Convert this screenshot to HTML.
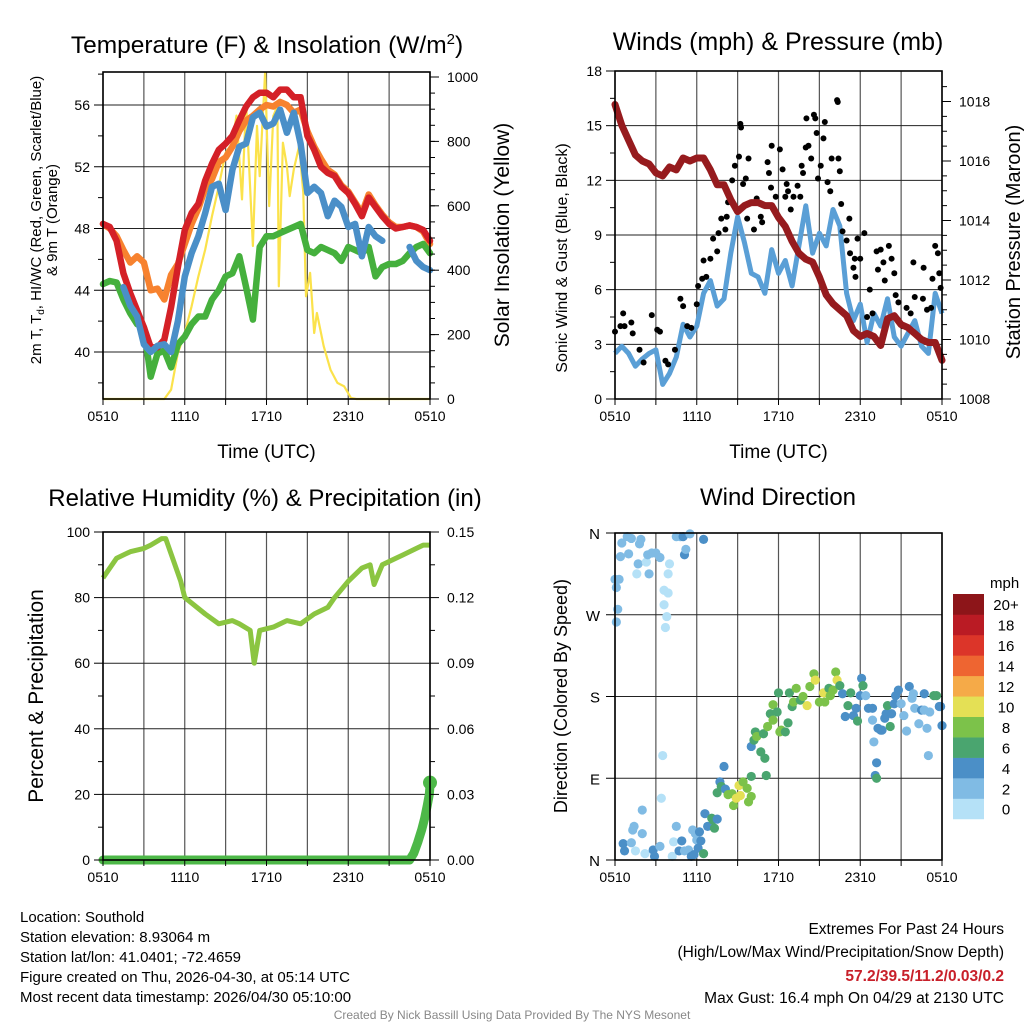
<!DOCTYPE html>
<html><head><meta charset="utf-8"><style>
html,body{margin:0;padding:0;background:#fff;}
svg{display:block;font-family:"Liberation Sans",sans-serif;}
</style></head><body>
<svg id="chart" width="1024" height="1024" viewBox="0 0 1024 1024" xmlns="http://www.w3.org/2000/svg"></svg>
<script>
// ---- data (half-hourly, hours since 0510 UTC) ----
const tempRed = [48.3,48.1,47.2,45.1,43.8,42.7,41.6,40.3,40.3,40.8,42.9,45.5,47.9,49.0,49.6,51.1,52.2,53.1,53.5,54.0,55.0,55.9,56.5,56.8,56.8,56.5,57.0,57.0,56.5,56.5,54.0,53.1,52.0,51.6,51.4,50.7,50.3,49.6,48.8,50.0,49.4,48.8,48.3,48.0,48.1,48.2,48.1,47.9,47.2];
const tempOrange = [48.3,48.0,47.5,46.6,45.8,46.2,45.8,44.0,44.1,43.4,45.0,45.7,47.0,48.3,49.3,50.6,51.2,52.3,52.6,53.3,54.3,55.0,55.3,55.7,56.0,55.9,56.2,56.0,55.5,55.7,54.3,53.3,52.5,51.8,51.5,50.8,50.4,49.7,49.0,50.2,49.5,48.9,48.4,48.1,48.1,48.2,48.1,47.8,47.0];
const tempBlue = [null,46.0,null,44.2,43.0,42.3,40.5,40.0,40.4,40.5,40.0,42.0,44.9,46.4,47.5,49.0,50.7,50.9,49.2,51.8,53.3,53.5,55.2,55.5,54.6,54.8,55.7,54.2,55.5,53.5,50.3,50.7,50.3,48.8,49.8,49.4,48.1,48.3,46.2,48.1,47.5,47.2,null,null,null,46.8,45.9,45.5,45.3];
const tempGreen = [44.4,44.6,44.5,43.4,42.5,41.8,41.6,38.4,39.9,40.1,39.0,40.5,41.0,41.8,42.3,42.3,43.4,44.0,44.9,45.1,46.2,44.2,42.1,46.8,47.5,47.5,47.7,47.9,48.1,48.3,46.6,46.4,46.8,46.6,46.4,45.9,46.8,46.6,46.4,46.8,44.9,45.5,45.7,45.7,45.9,46.4,46.8,47.0,46.4];
const solarHours = [0,4.5,5.0,5.5,6.0,6.5,7.0,7.5,8.0,8.5,9.0,9.5,9.8,10.2,10.5,11.0,11.3,11.5,11.9,12.2,12.5,12.8,12.9,13.2,13.5,13.7,14.0,14.4,14.7,14.9,15.2,15.5,15.7,16.2,16.7,17.2,17.7,18.2,18.6,24];
const solarValues = [0,0,29,143,205,288,381,464,568,661,765,796,880,620,920,475,848,692,1013,599,879,910,350,796,723,630,713,786,640,319,392,205,267,164,91,50,39,3,0,0];
const windSpeed = [2.5,2.9,2.5,1.8,2.2,2.5,2.7,0.8,1.4,2.3,4.1,3.4,4.0,5.8,6.5,5.1,5.5,8.0,10.0,8.6,6.9,6.7,5.8,8.2,6.9,7.6,6.2,8.4,10.6,8.0,9.1,8.4,10.4,9.5,5.8,4.3,5.2,3.1,4.7,4.0,5.5,3.4,2.9,3.6,4.3,2.9,2.5,5.8,4.7];
const pressure = [1017.9,1017.2,1016.7,1016.2,1016.0,1015.9,1015.6,1015.5,1015.8,1015.7,1016.1,1016.0,1016.1,1016.1,1015.7,1015.2,1015.2,1014.7,1014.3,1014.5,1014.6,1014.6,1014.5,1014.5,1014.1,1013.8,1013.3,1012.9,1012.7,1012.6,1012.1,1011.5,1011.2,1011.0,1010.8,1010.3,1010.1,1010.2,1010.1,1009.8,1010.7,1010.8,1010.5,1010.4,1010.2,1010.0,1009.9,1009.9,1009.3];
const gustHours = [0,0.4,0.6,0.7,1.2,1.3,1.8,2.1,2.7,3.1,3.3,3.7,3.9,4.4,4.8,5.0,5.3,5.6,6.0,6.1,6.4,6.7,6.5,7.0,7.2,7.6,7.5,7.8,8.1,8.2,8.3,8.6,8.8,9.1,9.2,9.25,9.4,9.6,9.8,9.7,10.2,10.4,10.7,10.8,11.3,11.2,11.5,11.45,11.8,12.1,12.3,12.5,12.6,12.7,12.9,13.1,13.4,13.6,13.7,13.8,14.0,14.05,14.2,14.4,14.6,14.7,14.8,14.9,15.1,15.3,15.4,15.6,15.8,15.9,16.3,16.35,16.4,16.5,16.6,16.7,17.0,17.2,17.25,17.6,17.8,18.0,18.3,17.5,17.65,19.2,19.5,19.3,19.7,19.8,20.1,20.3,20.5,18.7,18.9,18.5,20.6,20.8,21.1,21.4,21.7,21.9,22.0,22.6,22.65,22.9,23.3,23.5,23.7,23.8,23.9,23.2];
const gustValues = [3.7,4.0,4.7,4.0,4.2,3.6,2.7,2.0,4.6,3.8,3.7,2.1,1.9,2.7,5.5,5.1,4.0,3.9,5.2,6.2,6.6,6.7,7.6,7.7,8.8,9.1,8.1,9.9,9.3,10.0,10.8,12.0,12.8,13.3,15.1,14.9,11.8,12.1,13.2,9.9,9.3,11.0,10.0,9.7,12.4,13.0,13.9,11.6,11.1,13.7,12.6,11.1,11.8,11.4,10.4,11.1,11.7,11.1,12.8,12.4,13.8,15.4,13.9,13.2,15.6,15.4,14.6,12.1,12.8,14.3,15.2,11.9,11.4,13.2,16.4,16.3,13.2,12.5,10.7,9.2,8.7,9.9,8.0,7.7,8.8,7.7,9.1,7.2,6.7,8.1,8.2,7.1,7.5,6.5,8.4,7.7,6.9,6.0,4.7,4.5,5.7,5.3,4.0,5.0,4.7,7.5,5.6,5.5,7.2,4.9,6.6,8.4,8.0,6.9,6.1,5.0];
const rhHours = [0,1,2,3,3.5,4.3,4.6,5.7,6,7.5,8.5,9.5,10,10.8,11.1,11.5,12.5,13.5,14.5,15.5,16.5,17,18,19,19.6,19.9,20.5,21.5,22,23,23.5,24];
const rhValues = [86,92,94,95,96,98,98,85,80,75,72,73,72,70,60,70,71,73,72,75,77,80,85,89,90,84,90,92,93,95,96,96];
const precipHours = [0,22.5,22.8,23.1,23.4,23.6,23.8,23.95,24];
const precipValues = [0,0,0.003,0.008,0.014,0.019,0.025,0.030,0.034];
const dirHours = [0,0.1,0.3,0.2,0.1,0.5,0.4,0.9,1.2,1.0,1.6,1.7,1.8,1.9,2.5,2.3,2.4,2.7,3.0,3.3,3.6,3.6,3.9,3.8,3.7,3.9,4.0,4.5,4.8,5.0,5.1,5.2,5.5,6.5,
0.6,0.7,1.2,1.3,1.4,2.0,2.0,1.5,2.2,2.8,2.9,3.3,3.4,3.5,4.2,4.3,4.5,4.7,4.9,5.1,5.4,5.6,5.7,5.8,6.0,5.9,6.2,6.3,6.1,6.5,6.6,6.8,7.1,7.2,7.3,7.5,
8.0,7.7,7.8,7.5,8.1,8.3,8.6,8.7,8.9,9.1,9.2,9.4,9.7,9.8,10.0,10.0,10.0,10.2,10.3,10.4,10.7,10.9,11.0,11.1,11.2,11.4,11.6,11.6,11.9,12.0,12.1,12.2,12.5,12.7,12.8,13.0,13.1,13.3,13.6,13.8,14.1,14.3,14.6,14.7,15.0,15.3,15.4,15.7,15.8,16.0,16.2,16.3,16.5,16.7,16.9,17.1,17.3,17.5,17.7,17.8,18.0,18.1,18.2,18.4,18.6,18.9,18.9,19.0,19.1,19.2,19.2,19.3,19.5,19.6,19.8,19.9,20.0,20.2,20.3,20.5,20.6,20.8,21.0,21.2,21.4,21.6,21.8,21.9,22.0,22.3,22.5,22.7,22.7,22.9,23.0,23.1,23.4,23.6,23.8,23.9,24.0];
const dirDegrees = [309,300,309,276,262,349,334,356,354,337,315,326,348,353,315,328,336,338,338,333,281,297,294,268,256,315,326,356,356,356,336,342,359,353,
18,10,19,33,37,29,55,10,7,11,4,15,68,115,4,20,37,10,21,10,11,4,33,6,22,29,31,21,13,7,51,37,46,44,35,45,
103,86,81,74,78,72,73,60,68,82,71,86,79,64,70,92,125,132,141,136,119,139,112,93,147,161,171,154,163,184,141,143,141,151,184,169,174,189,176,180,170,191,205,198,174,184,174,189,181,187,207,198,192,183,158,170,184,159,167,153,181,200,192,181,167,167,154,130,93,90,107,145,143,143,156,161,170,147,161,172,181,187,172,159,142,191,178,183,167,150,165,183,165,145,115,163,181,181,169,169,148];
const dirSpeeds = [3,3,3,3,3,3,3,3,3,3,1,3,3,3,3,1,3,3,3,3,1,1,1,1,1,1,1,3,3,5,5,3,3,5,
5,5,3,3,3,3,3,1,1,5,5,3,1,1,1,1,3,5,5,3,3,5,3,5,3,3,5,5,5,7,5,5,7,7,7,5,
5,5,7,7,5,9,9,9,11,11,11,9,9,9,9,7,5,7,7,9,7,7,7,7,9,7,9,9,7,7,9,9,7,7,7,7,9,9,7,9,11,9,9,11,9,11,9,7,9,9,9,11,7,5,5,7,7,5,5,7,5,5,7,3,5,5,3,3,5,7,5,5,5,5,5,5,7,7,5,5,5,5,3,3,3,5,3,3,3,3,5,5,3,3,3,3,7,7,5,5,5];
const speedBinColors = ["#b5e1f7","#80bbe4","#4b8fc7","#4aa56f","#7cc24a","#e4e055","#f5aa48","#ee6531","#dc3529","#ba1b24","#8d1519"];
const speedBinLabels = ["0","2","4","6","8","10","12","14","16","18","20+"];
const xTickHours = [0,6,12,18,24];
const xTickLabels = ["0510","1110","1710","2310","0510"];

// ---- helpers ----
const svg = document.getElementById('chart');
const NS = 'http://www.w3.org/2000/svg';
function el(tag, attrs, parent){const e=document.createElementNS(NS,tag);for(const k in attrs)e.setAttribute(k,attrs[k]);(parent||svg).appendChild(e);return e;}
function txt(s, attrs, parent){const e=el('text',attrs,parent);e.textContent=s;return e;}
function lin(d0,d1,p0,p1){return v=>p0+(v-d0)*((p1-p0)/(d1-d0));}
function pathFrom(xs, ys, fx, fy){let d='',pen=false;for(let i=0;i<xs.length;i++){if(ys[i]===null||ys[i]===undefined){pen=false;continue;}d+=(pen?'L':'M')+fx(xs[i]).toFixed(1)+','+fy(ys[i]).toFixed(1);pen=true;}return d;}
const halfHours = tempRed.map((_,i)=>i/2);

function frame(P, name){
  const g=el('g',{});
  
  
  return g;
}
function grid(P, g, yTicks, fy){
  for(let h=0;h<=24;h+=3){const x=P.fx(h);const l=el('line',{x1:x,x2:x,y1:P.y0,y2:P.y1,stroke:'#555','stroke-width':1.2},g);}
  yTicks.forEach(v=>{const y=fy(v);const l=el('line',{x1:P.x0,x2:P.x1,y1:y,y2:y,stroke:'#222','stroke-width':1},g);});
}
function xAxis(P, g, withTitle){
  for(let h=0;h<=24;h+=3){const x=P.fx(h);el('line',{x1:x,x2:x,y1:P.y1,y2:P.y1+6,stroke:'#000','stroke-width':1},g);}
  xTickHours.forEach((h,i)=>{const t=txt(xTickLabels[i],{x:P.fx(h),y:P.y1+22,'font-size':14,'text-anchor':'middle'},g);});
  if(withTitle){const t=txt('Time (UTC)',{x:(P.x0+P.x1)/2,y:P.y1+59,'font-size':19,'text-anchor':'middle'},g);}
}
function border(P,g){const r=el('rect',{x:P.x0,y:P.y0,width:P.x1-P.x0,height:P.y1-P.y0,fill:'none',stroke:'#000','stroke-width':1.6},g);}
function yTicksLeft(P,g,vals,labels,fy,minor){
  minor.forEach(v=>el('line',{x1:P.x0-5,x2:P.x0,y1:fy(v),y2:fy(v),stroke:'#000','stroke-width':1},g));
  vals.forEach((v,i)=>{el('line',{x1:P.x0-9,x2:P.x0,y1:fy(v),y2:fy(v),stroke:'#000','stroke-width':1},g);const t=txt(labels[i],{x:P.x0-13,y:fy(v)+5,'font-size':14,'text-anchor':'end'},g);});
}
function yTicksRight(P,g,vals,labels,fy,minor){
  minor.forEach(v=>el('line',{x1:P.x1,x2:P.x1+5,y1:fy(v),y2:fy(v),stroke:'#000','stroke-width':1},g));
  vals.forEach((v,i)=>{el('line',{x1:P.x1,x2:P.x1+9,y1:fy(v),y2:fy(v),stroke:'#000','stroke-width':1},g);const t=txt(labels[i],{x:P.x1+17,y:fy(v)+5,'font-size':14,'text-anchor':'start'},g);});
}
function rotText(s,x,y,size,g,name){const t=txt(s,{x:x,y:y,'font-size':size,'text-anchor':'middle',transform:`rotate(-90 ${x} ${y})`},g);return t;}
function range(a,b,s){const r=[];for(let v=a;v<=b+1e-9;v+=s)r.push(+v.toFixed(4));return r;}

// ---- Panel 1: temperature & insolation ----
{
  const P={x0:103,x1:430,y0:72,y1:399};P.fx=lin(0,24,P.x0,P.x1);
  const fy=lin(40,56,352,105);
  const fs=lin(0,1000,399,77);
  const g=frame(P,'temperature-panel');
  grid(P,g,[40,44,48,52,56],fy);
  const sl=el('path',{d:pathFrom(solarHours,solarValues,P.fx,fs),fill:'none',stroke:'#fbe24b','stroke-width':2.2,'stroke-linejoin':'round'},g);
  
  [[tempOrange,'#f7822f','orange-9m-temp-line'],[tempGreen,'#45b03d','green-dewpoint-line'],[tempRed,'#d42027','red-2m-temp-line'],[tempBlue,'#4a8fc8','blue-heat-index-line']].forEach(s=>{
    const p=el('path',{d:pathFrom(halfHours,s[0],P.fx,fy),fill:'none',stroke:s[1],'stroke-width':6.5,'stroke-linejoin':'round','stroke-linecap':'round'},g);
    
  });
  border(P,g);
  yTicksLeft(P,g,[40,44,48,52,56],['40','44','48','52','56'],fy,[38,42,46,50,54,58]);
  yTicksRight(P,g,[0,200,400,600,800,1000],['0','200','400','600','800','1000'],fs,range(50,950,50));
  xAxis(P,g,true);
  const t=txt('',{x:267,y:53,'font-size':24.5,'text-anchor':'middle'},g);
  
  t.innerHTML='Temperature (F) &amp; Insolation (W/m<tspan dy="-9" font-size="15">2</tspan><tspan dy="9">)</tspan>';
  const a=txt('',{x:41,y:220,'font-size':15,'text-anchor':'middle',transform:'rotate(-90 41 220)'},g);
  
  a.innerHTML='2m T, T<tspan dy="3" font-size="10">d</tspan><tspan dy="-3">, HI/WC (Red, Green, Scarlet/Blue)</tspan>';
  rotText('& 9m T (Orange)',57,220,15,g,'temperature-y-axis-title-line2');
  rotText('Solar Insolation (Yellow)',509,235,21,g,'solar-y-axis-title');
}

// ---- Panel 2: winds & pressure ----
{
  const P={x0:615,x1:942,y0:71,y1:399};P.fx=lin(0,24,P.x0,P.x1);
  const fy=lin(0,18,399,71);
  const fp=lin(1008,1018,399,101.5);
  const g=frame(P,'winds-pressure-panel');
  grid(P,g,[3,6,9,12,15],fy);
  const w=el('path',{d:pathFrom(halfHours,windSpeed,P.fx,fy),fill:'none',stroke:'#5a9fd6','stroke-width':5,'stroke-linejoin':'round'},g);
  
  gustHours.forEach((h,i)=>{const c=el('circle',{cx:P.fx(h),cy:fy(gustValues[i]),r:3,fill:'#000'},g);
    });
  const p=el('path',{d:pathFrom(halfHours,pressure,P.fx,fp),fill:'none',stroke:'#961b1e','stroke-width':7,'stroke-linejoin':'round','stroke-linecap':'round'},g);
  
  border(P,g);
  yTicksLeft(P,g,[0,3,6,9,12,15,18],['0','3','6','9','12','15','18'],fy,range(1.5,16.5,3));
  yTicksRight(P,g,[1008,1010,1012,1014,1016,1018],['1008','1010','1012','1014','1016','1018'],fp,range(1008.5,1018.5,0.5));
  xAxis(P,g,true);
  const t=txt('Winds (mph) & Pressure (mb)',{x:778,y:50,'font-size':25,'text-anchor':'middle'},g);
  
  rotText('Sonic Wind & Gust (Blue, Black)',567,258,16,g,'wind-y-axis-title');
  rotText('Station Pressure (Maroon)',1020,242,20,g,'pressure-y-axis-title');
}

// ---- Panel 3: RH & precipitation ----
{
  const P={x0:103,x1:430,y0:532,y1:860};P.fx=lin(0,24,P.x0,P.x1);
  const fy=lin(0,100,860,532);
  const fr=lin(0,0.15,860,532);
  const g=frame(P,'humidity-precip-panel');
  grid(P,g,[20,40,60,80],fy);
  const r=el('path',{d:pathFrom(rhHours,rhValues,P.fx,fy),fill:'none',stroke:'#8bc541','stroke-width':5,'stroke-linejoin':'round'},g);
  
  const pr=el('path',{d:pathFrom(precipHours,precipValues,P.fx,fr),fill:'none',stroke:'#4db848','stroke-width':9,'stroke-linejoin':'round','stroke-linecap':'round'},g);
  
  const last=precipValues.length-1;
  const dot=el('circle',{cx:P.fx(precipHours[last]),cy:fr(precipValues[last])-3,r:7,fill:'#4db848'},g);
  
  border(P,g);
  yTicksLeft(P,g,[0,20,40,60,80,100],['0','20','40','60','80','100'],fy,range(10,90,20));
  yTicksRight(P,g,[0,0.03,0.06,0.09,0.12,0.15],['0.00','0.03','0.06','0.09','0.12','0.15'],fr,range(0.015,0.135,0.03));
  xAxis(P,g,false);
  const t=txt('Relative Humidity (%) & Precipitation (in)',{x:265,y:506,'font-size':24,'text-anchor':'middle'},g);
  
  rotText('Percent & Precipitation',43,696,21,g,'humidity-y-axis-title');
}

// ---- Panel 4: wind direction ----
{
  const P={x0:615,x1:942,y0:533,y1:860};P.fx=lin(0,24,P.x0,P.x1);
  const fy=lin(0,360,860,533);
  const g=frame(P,'wind-direction-panel');
  grid(P,g,[90,180,270],fy);
  dirHours.forEach((h,i)=>{
    const bin=Math.min(10,Math.floor(dirSpeeds[i]/2));
    const c=el('circle',{cx:P.fx(h),cy:fy(dirDegrees[i]),r:4.6,fill:speedBinColors[bin]},g);
    
  });
  border(P,g);
  [0,90,180,270,360].forEach((v,i)=>{el('line',{x1:P.x0-9,x2:P.x0,y1:fy(v),y2:fy(v),stroke:'#000'},g);
    const t=txt(['N','E','S','W','N'][i],{x:P.x0-15,y:fy(v)+6,'font-size':15,'text-anchor':'end'},g);});
  xAxis(P,g,false);
  const t=txt('Wind Direction',{x:778,y:505,'font-size':24,'text-anchor':'middle'},g);
  
  rotText('Direction (Colored By Speed)',567,696,18,g,'direction-y-axis-title');
  // colorbar
  const cb=el('g',{},g);
  
  const bh=20.45, top=594;
  speedBinColors.forEach((c,i)=>{
    const k=speedBinColors.length-1-i;
    const r=el('rect',{x:953,y:top+k*bh,width:31,height:bh+0.3,fill:c},cb);
    
    const l=txt(speedBinLabels[i],{x:1006,y:top+k*bh+bh/2+6,'font-size':15,'text-anchor':'middle'},cb);
    
  });
  const m=txt('mph',{x:990,y:588,'font-size':15},cb);
  
}

// ---- footer text ----
const info=['Location: Southold','Station elevation: 8.93064 m','Station lat/lon: 41.0401; -72.4659','Figure created on Thu, 2026-04-30, at 05:14 UTC','Most recent data timestamp: 2026/04/30 05:10:00'];
info.forEach((s,i)=>{const t=txt(s,{x:20,y:922+i*20,'font-size':15});});
const r1=txt('Extremes For Past 24 Hours',{x:1004,y:934,'font-size':15.5,'text-anchor':'end'});
const r2=txt('(High/Low/Max Wind/Precipitation/Snow Depth)',{x:1004,y:957,'font-size':15.5,'text-anchor':'end'});
const r3=txt('57.2/39.5/11.2/0.03/0.2',{x:1004,y:981,'font-size':15.5,'text-anchor':'end','font-weight':'bold',fill:'#c8202a'});
const r4=txt('Max Gust: 16.4 mph On 04/29 at 2130 UTC',{x:1004,y:1003,'font-size':15.5,'text-anchor':'end'});
const cr=txt('Created By Nick Bassill Using Data Provided By The NYS Mesonet',{x:512,y:1019,'font-size':12,'text-anchor':'middle',fill:'#888'});
</script>
</body></html>
